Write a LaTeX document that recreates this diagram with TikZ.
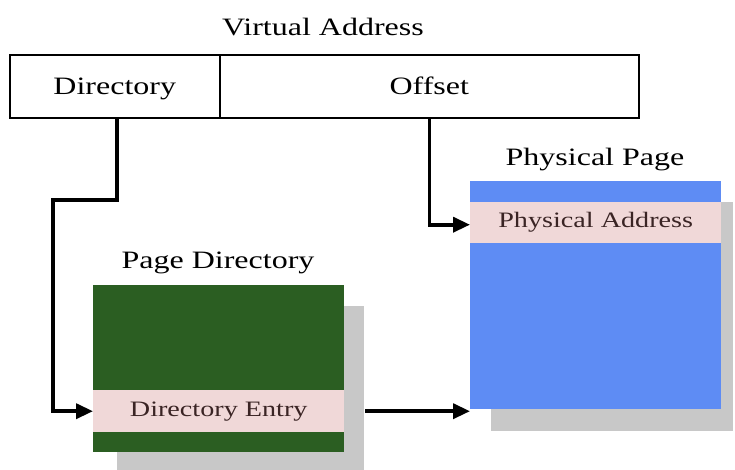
\documentclass[tikz,border=0pt]{standalone}
\usepackage{fontspec}
\setmainfont{Liberation Serif}[FakeStretch=1.28]
\usepackage{xcolor}
\usetikzlibrary{arrows.meta}
\definecolor{dirgreen}{HTML}{2B5E22}
\definecolor{pageblue}{HTML}{5E8CF4}
\definecolor{entrypink}{HTML}{F0D8D8}
\definecolor{shadowgray}{HTML}{C8C8C8}
\definecolor{entrytext}{HTML}{3A2424}
\tikzset{
  field/.style={draw,line width=1.6pt,anchor=north west,minimum height=63pt,
    inner sep=0pt,text height=17pt,text depth=0pt,font=\fontsize{25}{28}\selectfont},
  caption/.style={anchor=base,font=\fontsize{25}{28}\selectfont},
  block/.style={anchor=north west,minimum width=251pt,inner sep=0pt},
  band/.style={fill=entrypink,anchor=north west,minimum width=251pt,inner sep=0pt,
    text height=15pt,text depth=5pt,text=entrytext,font=\fontsize{22}{26}\selectfont},
  link/.style={line width=3.6pt,-{Triangle[length=17pt,width=15pt]}}
}

\begin{document}
\begin{tikzpicture}[x=1pt,y=-1pt]
    \useasboundingbox (0,0) rectangle (735,470);
    % virtual address
    \node[caption] (va) at (323,36) {Virtual Address};
    \node[field,minimum width=210pt] (dir) at (9,54) {Directory};
    \node[field,minimum width=419pt] (offset) at (219,54) {Offset};
    %
    % page directory
    \fill[shadowgray] (117,306) rectangle (364,474);
    \node[block,fill=dirgreen,minimum height=167pt] (pdir) at (93,285) {};
    \node[band,minimum height=42pt] (entry) at (93,390) {Directory Entry};
    \node[caption] (pdirlabel) at (218,268) {Page Directory};
    %
    % physical page
    \fill[shadowgray] (491,202) rectangle (733,431);
    \node[block,fill=pageblue,minimum height=228pt] (page) at (470,181) {};
    \node[band,minimum height=41pt] (addr) at (470,202) {Physical Address};
    \node[caption] (pagelabel) at (595,166) {Physical Page};
    %
    \coordinate (dirbend) at (53,200);
    \draw[link] ([xshift=2pt]dir.south) |- (dirbend) |- (entry.west);
    \draw[link] (offset.south) |- ([yshift=-2pt]addr.west);
    \draw[link] ([xshift=21pt]entry.east) -- (entry.east -| page.west);
\end{tikzpicture}
\end{document}
